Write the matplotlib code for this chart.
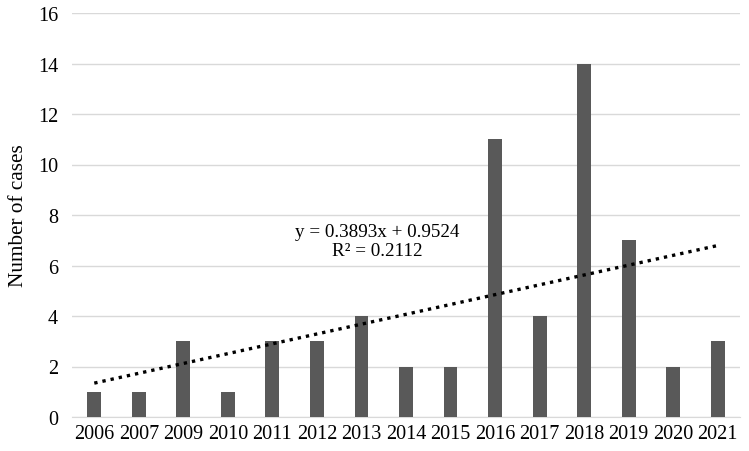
import matplotlib
matplotlib.use("Agg")
import matplotlib.pyplot as plt
import numpy as np

years = ["2006", "2007", "2009", "2010", "2011", "2012", "2013", "2014",
         "2015", "2016", "2017", "2018", "2019", "2020", "2021"]
cases = [1, 1, 3, 1, 3, 3, 4, 2, 2, 11, 4, 14, 7, 2, 3]
slope = 0.3893
intercept = 0.9524
r2 = 0.2112

plt.rcParams['font.family'] = ['Liberation Serif', 'DejaVu Serif']

fig = plt.figure(figsize=(7.49, 4.52), dpi=100)
ax = fig.add_axes([72/749, 1 - 418/452, (740-72)/749, (418-14)/452])

x = np.arange(len(years))
ax.bar(x, cases, width=0.31, color='#595959', zorder=3)

xt = x + 1
trend = slope * xt + intercept
ax.plot(x, trend, linestyle=(0, (1, 1.5)), color='black', linewidth=2.4, zorder=4)

ax.text(6.35, 6.97, f"y = {slope}x + {intercept}\nR\u00b2 = {r2}", ha='center', va='center',
        fontsize=13.8, linespacing=1.15, zorder=5)

ax.set_xlim(-0.5, len(years) - 0.5)
ax.set_ylim(0, 16)
ax.set_yticks(range(0, 17, 2))
ax.set_xticks(x)
ax.set_xticklabels(years)
ax.tick_params(axis='both', length=0, labelsize=14.5)
ax.tick_params(axis='y', pad=10)
ax.tick_params(axis='x', pad=5)
ax.grid(axis='y', color='#d9d9d9', linewidth=1, zorder=0)
for s in ['top', 'right', 'left']:
    ax.spines[s].set_visible(False)
ax.spines['bottom'].set_color('#d9d9d9')
ax.set_ylabel("Number of cases", fontsize=15.3)
ax.yaxis.set_label_coords(-0.066, 0.5)

fig.savefig("out.png", dpi=100)
